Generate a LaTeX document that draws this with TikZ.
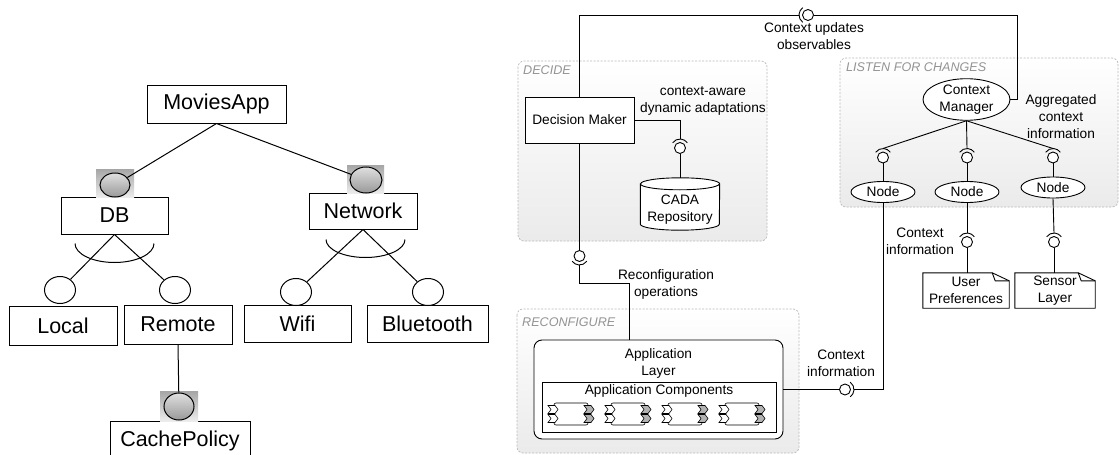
\documentclass[tikz,border=0pt]{standalone}
\usepackage{fontspec}
\setmainfont{Liberation Sans}
\usetikzlibrary{shapes.geometric,calc}

\tikzset{
  feat/.style={draw, line width=1pt, fill=white, inner sep=0pt, font=\fontsize{21.5}{24}\selectfont},
  link/.style={line width=1pt},
  mand/.style={ellipse, draw, line width=1pt, inner sep=0pt, top color=gray!25, bottom color=gray!80},
  mandbg/.style={draw=none, inner sep=0pt, top color=gray!70, bottom color=gray!15},
  opt/.style={ellipse, draw, line width=1pt, fill=white, inner sep=0pt, minimum width=31, minimum height=27},
  group/.style={draw=gray!55, dash pattern=on 2pt off 1.5pt, rounded corners=6, top color=white, bottom color=gray!16, line width=0.7pt},
  grouplabel/.style={anchor=north west, inner sep=0pt, text=gray!85, font=\fontsize{12.6}{15}\selectfont\itshape},
  lbl/.style={align=center, inner sep=0pt, font=\fontsize{13.7}{17}\selectfont},
  box/.style={draw, line width=0.9pt, fill=white, inner sep=0pt},
  ball/.style={circle, draw, line width=0.9pt, fill=white, inner sep=0pt, minimum size=11},
  wire/.style={line width=0.9pt},
  notebox/.style={lbl, minimum height=35},
  pics/swcomp/.style={code={
    \draw[line width=0.6pt, rounded corners=2, fill=white] (-17,-11) rectangle (17,11);
    \foreach \dy in {-4.5,4.5} {
      \draw[line width=0.6pt, fill=white] (-23,\dy-4) -- (-16,\dy-4) -- (-13,\dy) -- (-16,\dy+4) -- (-23,\dy+4) -- (-20,\dy) -- cycle;
      \draw[line width=0.6pt, fill=gray!60] (13,\dy-4) -- (20,\dy-4) -- (23,\dy) -- (20,\dy+4) -- (13,\dy+4) -- (16,\dy) -- cycle;
    }
  }},
}

\begin{document}
\begin{tikzpicture}[x=1pt,y=-1pt]
\useasboundingbox (0,0) rectangle (1120,455);
\clip (0,0) rectangle (1120,455);
\fill[white] (0,0) rectangle (1120,455);

% ---------------- feature model ----------------
\node[feat, minimum width=139, minimum height=38] (app) at (216.5,104) {MoviesApp};
\node[feat, minimum width=107, minimum height=37] (db) at (114.5,215.5) {DB};
\node[feat, minimum width=108, minimum height=36] (net) at (363,211) {Network};
\node[feat, minimum width=108, minimum height=39] (local) at (63,325.5) {Local};
\node[feat, minimum width=108, minimum height=39] (remote) at (178,324.5) {Remote};
\node[feat, minimum width=107, minimum height=37] (wifi) at (297.5,323.5) {Wifi};
\node[feat, minimum width=121, minimum height=37] (bt) at (427.5,323.5) {Bluetooth};
\node[feat, minimum width=140, minimum height=40] (cache) at (180,441) {CachePolicy};

% mandatory markers
\node[mandbg, minimum width=38, minimum height=28] (dbbg) at (115,183) {};
\node[mand, minimum width=30, minimum height=24] (dbm) at (115,185) {};
\node[mandbg, minimum width=37, minimum height=28] (netbg) at (365.5,179) {};
\node[mand, minimum width=32, minimum height=26] (netm) at (366,180) {};
\node[mandbg, minimum width=38, minimum height=30] (cachebg) at (179,406) {};
\node[mand, minimum width=30, minimum height=27] (cachem) at (179,406.5) {};

% optional markers
\node[opt] (localo) at (60,290) {};
\node[opt] (remoteo) at (175,290) {};
\node[opt] (wifio) at (296,292) {};
\node[opt] (bto) at (428,292) {};

\draw[link] (app.south) -- (dbm);
\draw[link] (app.south) -- (netm);
\draw[link] (db.south) -- (localo);
\draw[link] (db.south) -- (remoteo);
\draw[link] (net.south) -- (wifio);
\draw[link] (net.south) -- (bto);
\draw[link] (remote.south) -- (cachem);

% alternative-group arcs
\draw[link] ([shift={(-39.5,9)}]db.south) arc[start angle=180, end angle=0, x radius=39.5, y radius=19];
\draw[link] ([shift={(-37,10)}]net.south) arc[start angle=180, end angle=0, x radius=39.5, y radius=18];

% ---------------- adaptation loop ----------------
\draw[group] (518,61) rectangle (767,241);
\draw[group] (840,58) rectangle (1118,207);
\draw[group] (517,309) rectangle (799,453);
\node[grouplabel] (gdecide) at (523,65.5) {DECIDE};
\node[grouplabel] (glisten) at (846,62.5) {LISTEN FOR CHANGES};
\node[grouplabel] (greconf) at (522,317.5) {RECONFIGURE};

% components
\node[box, lbl, minimum width=109, minimum height=46] (dm) at (579.5,120) {Decision Maker};

% repository drawn as a cylinder around an invisible node
\node[inner sep=0pt, minimum width=79, minimum height=52] (cada) at (680,204) {};
\draw[wire, fill=white] ([shift={(0,6)}]cada.north west) -- ([shift={(0,-6)}]cada.south west)
  arc[start angle=180, end angle=0, x radius=39.5, y radius=6]
  -- ([shift={(0,6)}]cada.north east)
  arc[start angle=0, end angle=-180, x radius=39.5, y radius=6] -- cycle;
\draw[wire] ([shift={(0,6)}]cada.north west) arc[start angle=180, end angle=0, x radius=39.5, y radius=6];
\node[lbl] (cadat) at (680,209.5) {CADA\\Repository};

\node[ellipse, draw, line width=0.9pt, fill=white, inner sep=0pt, minimum width=87, minimum height=33, lbl] (cm) at (966.5,99.5) {Context\\Manager};
\node[ellipse, draw, line width=0.9pt, fill=white, inner sep=0pt, minimum width=64, minimum height=21, lbl] (n1) at (883,192) {Node};
\node[ellipse, draw, line width=0.9pt, fill=white, inner sep=0pt, minimum width=64, minimum height=21, lbl] (n2) at (967,192) {Node};
\node[ellipse, draw, line width=0.9pt, fill=white, inner sep=0pt, minimum width=64, minimum height=21, lbl] (n3) at (1053,187.5) {Node};

\node[notebox, minimum width=86] (up) at (966,290.5) {User\\Preferences};
\node[notebox, minimum width=80] (sl) at (1055,290.5) {Sensor\\Layer};
\foreach \n in {up,sl} {
  \draw[wire, fill=white] (\n.north west) -- ([shift={(-17,0)}]\n.north east) -- ([shift={(0,8)}]\n.north east)
    -- (\n.south east) -- (\n.south west) -- cycle;
  \draw[wire] ([shift={(-17,0)}]\n.north east) -- ([shift={(-14,8)}]\n.north east) -- ([shift={(0,8)}]\n.north east);
}
\node[lbl] (upt) at (up) {User\\Preferences};
\node[lbl] (slt) at (sl) {Sensor\\Layer};

\node[box, rounded corners=8, minimum width=249, minimum height=99] (applayer) at (658.5,389.5) {};
\node[lbl] (altext) at (658.5,363.5) {Application\\Layer};
\node[box, minimum width=234, minimum height=50] (appcomp) at (659,407) {};
\node[lbl] (actext) at (659,391) {Application Components};
\foreach \cx [count=\i] in {571,628,685,742} {
  \pic (sc\i) at (\cx,414) {swcomp};
}

% ball-and-socket interfaces
\node[ball] (b1) at (808,15) {};
\draw[wire] ([shift={(125:9)}]b1.center) arc[start angle=125, end angle=235, radius=9];
\coordinate (k1) at ([shift={(-9,0)}]b1.center);
\coordinate (t1) at (1017,15);

\node[ball] (b2) at (680,148) {};
\draw[wire] ([shift={(215:9)}]b2.center) arc[start angle=215, end angle=325, radius=9];
\coordinate (k2) at ([shift={(0,-9)}]b2.center);

\node[ball] (b3) at (579.5,256) {};
\draw[wire] ([shift={(35:9)}]b3.center) arc[start angle=35, end angle=145, radius=9];
\coordinate (k3) at ([shift={(0,9)}]b3.center);

\node[ball] (b4) at (845,389.5) {};
\draw[wire] ([shift={(-55:9)}]b4.center) arc[start angle=-55, end angle=55, radius=9];
\coordinate (k4) at ([shift={(9,0)}]b4.center);

\foreach \nm/\bx/\by in {b5a/883/157.5, b5b/967/157.5, b5c/1053/157.5, b6/967/242, b7/1054/242} {
  \node[ball] (\nm) at (\bx,\by) {};
  \draw[wire] ([shift={(215:9)}]\nm.center) arc[start angle=215, end angle=325, radius=9];
  \coordinate (k\nm) at ([shift={(0,-9)}]\nm.center);
}

% connectors
\draw[wire] (dm.north) |- (k1);
\draw[wire] (b1) -- (t1) |- (cm.east);
\draw[wire] (dm.east) -| (k2);
\draw[wire] (b2) -- (cada.north);
\draw[wire] (dm.south) -- (b3);
\draw[wire] (k3) -- ++(0,18) -| ([shift={(-29.5,0)}]applayer.north);
\draw[wire] (applayer.east) -- (b4);
\draw[wire] (k4) -| (n1.south);
\draw[wire] (cm.south) -- (kb5a);
\draw[wire] (cm.south) -- (kb5b);
\draw[wire] (cm.south) -- (kb5c);
\draw[wire] (b5a) -- (n1.north);
\draw[wire] (b5b) -- (n2.north);
\draw[wire] (b5c) -- (n3.north);
\draw[wire] (n2.south) -- (kb6);
\draw[wire] (n3.south) -- (kb7);
\draw[wire] (b6) -- (b6 |- up.north);
\draw[wire] (b7) -- (b7 |- sl.north);

% connector labels
\node[lbl] (lcu) at (814,36.5) {Context updates\\observables};
\node[lbl] (lca) at (703,101) {context-aware\\dynamic adaptations};
\node[lbl] (lro) at (666,284) {Reconfiguration\\operations};
\node[lbl] (lci1) at (841,363) {Context\\information};
\node[lbl] (lagg) at (1061,116.5) {Aggregated\\context\\information};
\node[lbl] (lci2) at (920,241.5) {Context\\information};
\end{tikzpicture}
\end{document}
